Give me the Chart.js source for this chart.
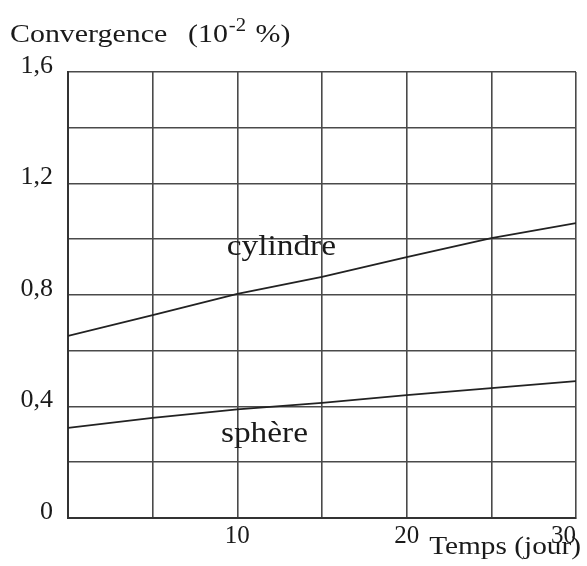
<!DOCTYPE html>
<html>
<head>
<meta charset="utf-8">
<script src="https://cdn.jsdelivr.net/npm/chart.js@4"></script>
<style>
  body { margin: 0; background: #fff; }
  canvas { display: block; }
</style>
</head>
<body>
<canvas id="convChart" width="587" height="566"></canvas>
<script>
// temps en jours
var jours = [0, 5, 10, 15, 20, 25, 30];
// convergence (10^-2 %)
var cylindre = [0.653, 0.728, 0.804, 0.865, 0.936, 1.004, 1.058];
var sphere = [0.323, 0.359, 0.39, 0.413, 0.441, 0.466, 0.491];

var curveLabels = [
  { text: 'cylindre', x: 12.6, y: 0.97 },
  { text: 'sphère', x: 11.6, y: 0.30 }
];

var serif = "'Liberation Serif', 'Times New Roman', serif";
var gridColor = '#4a4a4a';
var stretch = 1.15; // le texte scanné est plus large que Times

function toPoints(xs, ys) {
  return xs.map(function(x, i) { return { x: x, y: ys[i] }; });
}

function wideText(ctx, text, x, y) {
  ctx.save();
  ctx.translate(x, y);
  ctx.scale(stretch, 1);
  ctx.fillText(text, 0, 0);
  ctx.restore();
  return ctx.measureText(text).width * stretch;
}

// titres et étiquettes des courbes
var textPlugin = {
  id: 'textPlugin',
  afterDraw: function(chart) {
    var ctx = chart.ctx;
    var xs = chart.scales.x, ys = chart.scales.y;
    ctx.save();
    ctx.fillStyle = '#1a1a1a';
    ctx.textBaseline = 'alphabetic';

    // titre de l'axe y avec exposant
    ctx.textAlign = 'left';
    ctx.font = '26px ' + serif;
    wideText(ctx, 'Convergence', 10, 42);
    var x = 188;
    x += wideText(ctx, '(10', x, 42);
    ctx.font = '18px ' + serif;
    x += wideText(ctx, '-2', x + 1, 31) + 3;
    ctx.font = '26px ' + serif;
    wideText(ctx, ' %)', x, 42);

    // titre de l'axe x
    ctx.textAlign = 'right';
    ctx.font = '25.5px ' + serif;
    wideText(ctx, 'Temps (jour)', 581, 554);

    // noms des courbes
    ctx.textAlign = 'center';
    ctx.textBaseline = 'middle';
    ctx.font = '29px ' + serif;
    curveLabels.forEach(function(l) {
      wideText(ctx, l.text, xs.getPixelForValue(l.x), ys.getPixelForValue(l.y));
    });
    ctx.restore();
  }
};

var chart = new Chart(document.getElementById('convChart').getContext('2d'), {
  type: 'line',
  data: {
    datasets: [
      {
        label: 'cylindre',
        data: toPoints(jours, cylindre),
        borderColor: '#222',
        borderWidth: 1.8,
        pointRadius: 0,
        tension: 0
      },
      {
        label: 'sphère',
        data: toPoints(jours, sphere),
        borderColor: '#222',
        borderWidth: 1.8,
        pointRadius: 0,
        tension: 0
      }
    ]
  },
  options: {
    responsive: false,
    animation: false,
    layout: { padding: { top: 72, right: 11, left: 0, bottom: 0 } },
    plugins: {
      legend: { display: false },
      tooltip: { enabled: false }
    },
    scales: {
      x: {
        type: 'linear',
        min: 0,
        max: 30,
        afterFit: function(scale) {
          scale.height = 48;
          scale.paddingLeft = 0;
          scale.paddingRight = 0;
        },
        grid: { color: gridColor, lineWidth: 1.6, drawTicks: false },
        border: { color: '#333', width: 2 },
        ticks: {
          stepSize: 5,
          padding: 3,
          align: 'inner',
          color: '#1a1a1a',
          font: { family: serif, size: 25 },
          maxRotation: 0,
          autoSkip: false,
          callback: function(v) { return (v > 0 && v % 10 === 0) ? String(v) : ''; }
        }
      },
      y: {
        min: 0,
        max: 1.6,
        afterFit: function(scale) {
          scale.width = 68;
          scale.paddingTop = 0;
          scale.paddingBottom = 0;
        },
        grid: { color: gridColor, lineWidth: 1.6, drawTicks: false },
        border: { color: '#333', width: 2 },
        ticks: {
          stepSize: 0.2,
          padding: 15,
          labelOffset: -6,
          color: '#1a1a1a',
          font: { family: serif, size: 26 },
          autoSkip: false,
          callback: function(v) {
            var k = Math.round(v * 10);
            if (k % 4 !== 0) return '';
            return k === 0 ? '0' : (k / 10).toFixed(1).replace('.', ',');
          }
        }
      }
    }
  },
  plugins: [textPlugin]
});
</script>
</body>
</html>
